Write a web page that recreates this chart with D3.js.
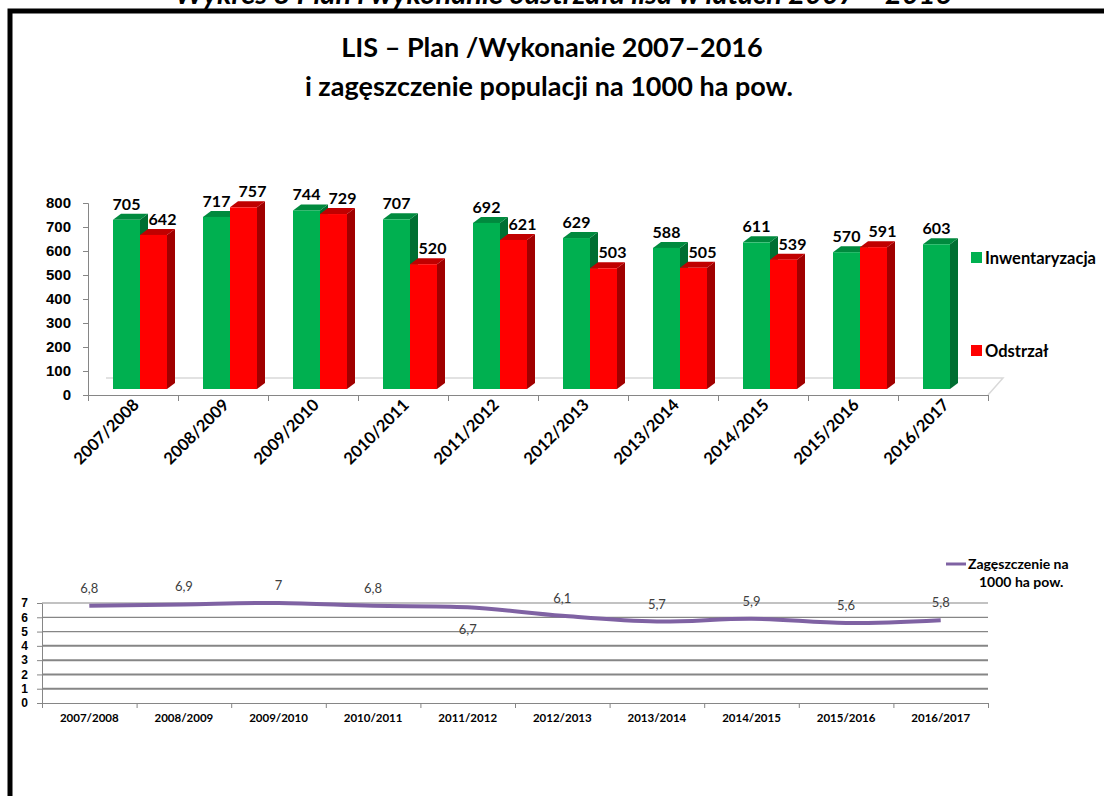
<!DOCTYPE html>
<html>
<head>
<meta charset="utf-8">
<script src="https://cdnjs.cloudflare.com/ajax/libs/d3/7.8.5/d3.min.js"></script>
<style>
  body { margin: 0; background: #fff; }
  svg { display: block; font-family: Lato, 'Open Sans', sans-serif; }
</style>
</head>
<body>
<div id="content"></div>
<script>
var categories = ['2007/2008', '2008/2009', '2009/2010', '2010/2011', '2011/2012',
                  '2012/2013', '2013/2014', '2014/2015', '2015/2016', '2016/2017'];
var inwentaryzacja = [705, 717, 744, 707, 692, 629, 588, 611, 570, 603];
var odstrzal = [642, 757, 729, 520, 621, 503, 505, 539, 591, null];
var zageszczenie = [6.8, 6.9, 7, 6.8, 6.7, 6.1, 5.7, 5.9, 5.6, 5.8];
var zagLabels = ['6,8', '6,9', '7', '6,8', '6,7', '6,1', '5,7', '5,9', '5,6', '5,8'];
var barTicks = [0, 100, 200, 300, 400, 500, 600, 700, 800];
var lineTicks = [0, 1, 2, 3, 4, 5, 6, 7];
var seriesNames = ['Inwentaryzacja', 'Odstrzał'];

var width = 1104, height = 796;

var svg = d3.select('#content').append('svg')
    .attr('width', width)
    .attr('height', height);

// frame + caption above it (cut by the page edge as in the scan)
svg.append('text')
    .attr('x', 563).attr('y', 4)
    .attr('text-anchor', 'middle')
    .style('font-size', '29px')
    .style('font-weight', 'bold')
    .style('font-style', 'italic')
    .text('Wykres 8 Plan i wykonanie odstrzału lisa w latach 2007 – 2016');

svg.append('rect')
    .attr('x', 10).attr('y', 11)
    .attr('width', 1200).attr('height', 900)
    .style('fill', 'none')
    .style('stroke', '#000')
    .style('stroke-width', 5);

var title = svg.append('text')
    .attr('text-anchor', 'middle')
    .style('font-size', '27px')
    .style('font-weight', 'bold');
title.append('tspan').attr('x', 552).attr('y', 57).text('LIS – Plan /Wykonanie 2007–2016');
title.append('tspan').attr('x', 549).attr('y', 96).text('i zagęszczenie populacji na 1000 ha pow.');

// ---------- bar chart ----------
var depthX = 8, depthY = 6;

var yScale = d3.scaleLinear()
    .domain([0, 800])
    .range([395, 203]);

var xBand = d3.scaleBand()
    .domain(categories)
    .range([88, 988]);

var xInner = d3.scaleBand()
    .domain(seriesNames)
    .range([25, 79]);

var xEdge = d3.scaleLinear()
    .domain([0, categories.length])
    .range([88, 988]);

// floor
svg.append('path')
    .attr('d', 'M106,378 L1003,378 L988,395')
    .style('fill', 'none')
    .style('stroke', '#d9d9d9')
    .style('stroke-width', 1.5);

var vAxis = d3.axisLeft(yScale)
    .tickValues(barTicks)
    .tickSize(5)
    .tickPadding(12);

var vGuide = svg.append('g')
    .attr('transform', 'translate(88,0)')
    .call(vAxis);
vGuide.selectAll('path').style('stroke', '#868686');
vGuide.selectAll('line').style('stroke', '#868686');
vGuide.selectAll('text')
    .style('font-size', '15px')
    .style('font-weight', 'bold')
    .style('fill', '#000');

var hAxis = d3.axisBottom(xEdge)
    .ticks(categories.length)
    .tickFormat('')
    .tickSizeOuter(0)
    .tickSize(6);

var hGuide = svg.append('g')
    .attr('transform', 'translate(0,395)')
    .call(hAxis);
hGuide.selectAll('path').style('stroke', '#868686');
hGuide.selectAll('line').style('stroke', '#868686');

svg.append('g').selectAll('text')
    .data(categories)
    .enter().append('text')
    .attr('text-anchor', 'end')
    .attr('transform', function(d) {
        return 'translate(' + (xBand(d) + xBand.bandwidth() / 2 + 7) + ',406) rotate(-45)';
    })
    .style('font-size', '16.5px')
    .style('font-weight', 'bold')
    .text(function(d) { return d; });

var barData = [];
categories.forEach(function(c, i) {
    barData.push({ cat: c, name: seriesNames[0], value: inwentaryzacja[i],
                   front: '#00b050', side: '#006f32', top: '#008a3e' });
    if (odstrzal[i] != null) {
        barData.push({ cat: c, name: seriesNames[1], value: odstrzal[i],
                       front: '#ff0000', side: '#a00000', top: '#c00000' });
    }
});

var bars = svg.append('g').selectAll('g')
    .data(barData)
    .enter().append('g');

function barX(d) { return xBand(d.cat) + xInner(d.name); }
function barTop(d) { return yScale(d.value) - depthY; }
var bw = xInner.bandwidth();
var base = yScale(0) - depthY;

bars.append('path')
    .style('fill', function(d) { return d.side; })
    .attr('d', function(d) {
        var x = barX(d) + bw, t = barTop(d);
        return 'M' + x + ',' + t + 'L' + (x + depthX) + ',' + (t - depthY) +
               'L' + (x + depthX) + ',' + (base - depthY) + 'L' + x + ',' + base + 'Z';
    });

bars.append('path')
    .style('fill', function(d) { return d.top; })
    .attr('d', function(d) {
        var x = barX(d), t = barTop(d);
        return 'M' + x + ',' + t + 'L' + (x + depthX) + ',' + (t - depthY) +
               'L' + (x + bw + depthX) + ',' + (t - depthY) + 'L' + (x + bw) + ',' + t + 'Z';
    });

bars.append('rect')
    .style('fill', function(d) { return d.front; })
    .attr('x', barX)
    .attr('y', barTop)
    .attr('width', bw)
    .attr('height', function(d) { return base - barTop(d); });

bars.append('text')
    .attr('text-anchor', 'middle')
    .attr('x', function(d) { return barX(d) + bw / 2 + (d.name === seriesNames[1] ? 9 : 0); })
    .attr('y', function(d) { return barTop(d) - 10; })
    .style('font-size', '16px')
    .style('font-weight', 'bold')
    .text(function(d) { return d.value; });

// legend
var legend = svg.append('g').selectAll('g')
    .data([{ name: seriesNames[0], color: '#00b050', y: 258 },
           { name: seriesNames[1], color: '#ff0000', y: 351 }])
    .enter().append('g');
legend.append('rect')
    .attr('x', 971).attr('y', function(d) { return d.y - 6; })
    .attr('width', 11).attr('height', 11)
    .style('fill', function(d) { return d.color; });
legend.append('text')
    .attr('x', 985).attr('y', function(d) { return d.y + 6; })
    .style('font-size', '16.5px')
    .style('font-weight', 'bold')
    .text(function(d) { return d.name; });

// ---------- line chart ----------
var xLine = d3.scaleBand()
    .domain(categories)
    .range([42, 988]);

var yLine = d3.scaleLinear()
    .domain([0, 7])
    .range([703, 603]);

var xLineEdge = d3.scaleLinear()
    .domain([0, categories.length])
    .range([42, 988]);

svg.append('g').selectAll('line')
    .data(lineTicks.filter(function(d) { return d > 0; }))
    .enter().append('line')
    .attr('x1', 42).attr('x2', 988)
    .attr('y1', function(d) { return yLine(d); })
    .attr('y2', function(d) { return yLine(d); })
    .style('stroke', '#868686')
    .style('stroke-width', function(d) { return d >= 5 ? 1.2 : 2; });

var lvAxis = d3.axisLeft(yLine)
    .tickValues(lineTicks)
    .tickFormat(d3.format('d'))
    .tickSize(5)
    .tickPadding(9)
    .tickSizeOuter(0);
var lvGuide = svg.append('g')
    .attr('transform', 'translate(42,0)')
    .call(lvAxis);
lvGuide.selectAll('path').style('stroke', '#868686');
lvGuide.selectAll('line').style('stroke', '#868686');
lvGuide.selectAll('text')
    .style('font-size', '12px')
    .style('font-weight', 'bold')
    .style('fill', '#000');

var lhAxis = d3.axisBottom(xLineEdge)
    .ticks(categories.length)
    .tickFormat('')
    .tickSizeOuter(0)
    .tickSize(5);
var lhGuide = svg.append('g')
    .attr('transform', 'translate(0,703)')
    .call(lhAxis);
lhGuide.selectAll('path').style('stroke', '#868686');
lhGuide.selectAll('line').style('stroke', '#868686');

svg.append('g').selectAll('text')
    .data(categories)
    .enter().append('text')
    .attr('text-anchor', 'middle')
    .attr('x', function(d) { return xLine(d) + xLine.bandwidth() / 2; })
    .attr('y', 722)
    .style('font-size', '11.5px')
    .style('font-weight', 'bold')
    .text(function(d) { return d; });

var line = d3.line()
    .x(function(d, i) { return xLine(categories[i]) + xLine.bandwidth() / 2; })
    .y(function(d) { return yLine(d); })
    .curve(d3.curveCatmullRom.alpha(0.5));

svg.append('path')
    .datum(zageszczenie)
    .attr('d', line)
    .style('fill', 'none')
    .style('stroke', '#7f62a3')
    .style('stroke-width', 4);

svg.append('g').selectAll('text')
    .data(zageszczenie)
    .enter().append('text')
    .attr('text-anchor', 'middle')
    .attr('x', function(d, i) { return xLine(categories[i]) + xLine.bandwidth() / 2; })
    .attr('y', function(d, i) { return i === 4 ? yLine(d) + 27 : yLine(d) - 13; })
    .style('font-size', '13px')
    .style('fill', '#404040')
    .text(function(d, i) { return zagLabels[i]; });

svg.append('line')
    .attr('x1', 946).attr('x2', 966)
    .attr('y1', 564).attr('y2', 564)
    .style('stroke', '#7f62a3')
    .style('stroke-width', 3);
var lt = svg.append('text')
    .style('font-size', '14px')
    .style('font-weight', 'bold');
lt.append('tspan').attr('x', 968).attr('y', 569).text('Zagęszczenie na');
lt.append('tspan').attr('x', 979).attr('y', 587).text('1000 ha pow.');
</script>
</body>
</html>
